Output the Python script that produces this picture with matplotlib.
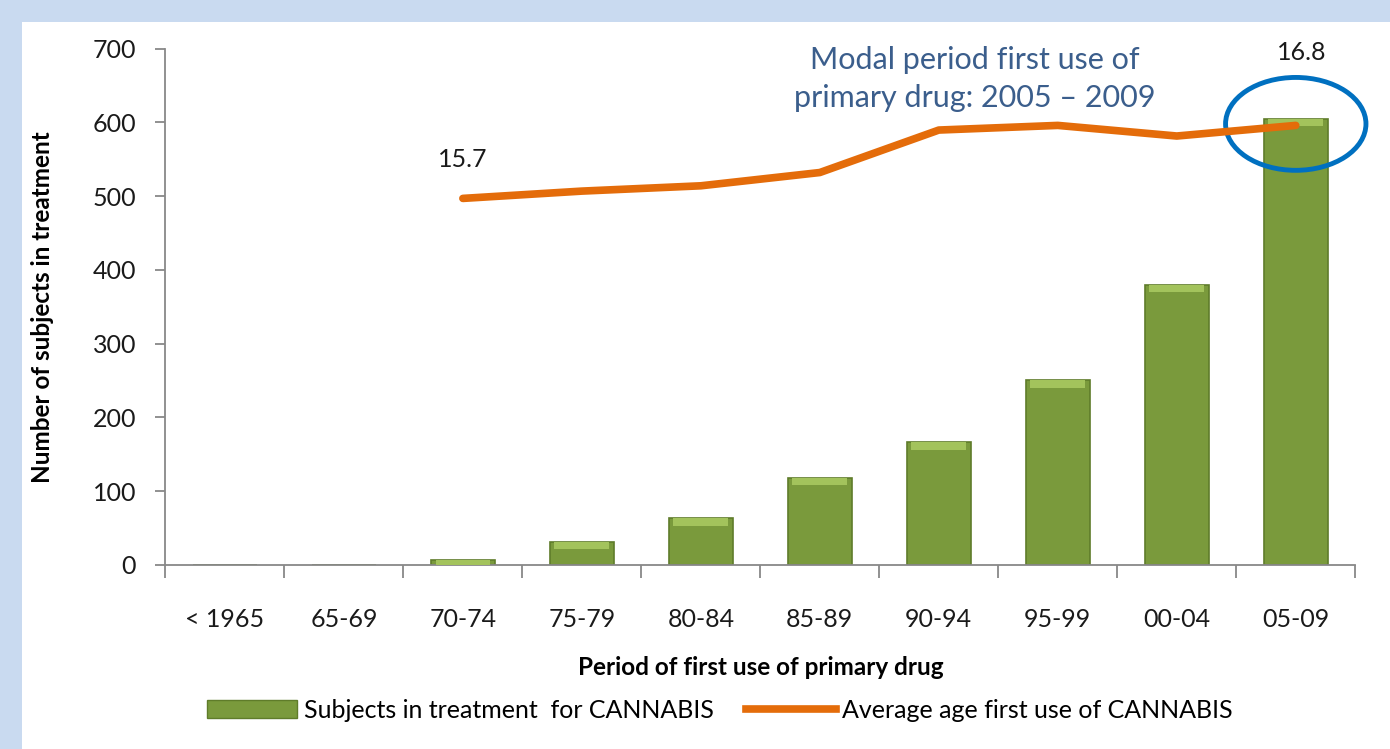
import matplotlib.pyplot as plt
from matplotlib.patches import Ellipse, Rectangle
from matplotlib.lines import Line2D

plt.rcParams["font.family"] = ["Lato", "DejaVu Sans"]

periods = ["< 1965", "65-69", "70-74", "75-79", "80-84", "85-89", "90-94", "95-99", "00-04", "05-09"]
subjects = [0, 0, 7, 31, 63, 118, 166, 250, 380, 605]
age_periods = ["70-74", "75-79", "80-84", "85-89", "90-94", "95-99", "00-04", "05-09"]
avg_age = [15.7, 15.81, 15.89, 16.09, 16.73, 16.8, 16.64, 16.8]

BAR_COLOR = "#7a9a3c"
CAP_COLOR = "#a3c35c"
LINE_COLOR = "#e46c0a"
TEXT_COLOR = "#1a1a1a"


def main():
    fig = plt.figure(figsize=(13.9, 7.49), dpi=100)
    fig.patch.set_facecolor("#c9daf0")
    fig.patches.append(Rectangle((0.016, 0), 0.984, 0.971, transform=fig.transFigure,
                                 facecolor="white", edgecolor="none", zorder=-10))

    ax = fig.add_axes([0.119, 0.246, 0.856, 0.689])
    ax.set_facecolor("none")
    x = list(range(len(periods)))

    ax.bar(x, subjects, width=0.54, color=BAR_COLOR, edgecolor="#5f7c2a", linewidth=1.2, zorder=2)
    # lighter bevel at bar tops
    cap = [min(10, s) for s in subjects]
    ax.bar(x, cap, bottom=[s - c for s, c in zip(subjects, cap)], width=0.46,
           color=CAP_COLOR, edgecolor="none", zorder=3)

    ax.set_xlim(-0.5, len(periods) - 0.5)
    ax.set_ylim(0, 700)
    ax.set_yticks(range(0, 701, 100))
    ax.set_xticks(x)
    ax.set_xticklabels(periods, fontsize=18, color=TEXT_COLOR)
    ax.set_xticks([i - 0.5 for i in range(len(periods) + 1)], minor=True)
    ax.tick_params(axis="x", which="major", length=0, pad=31)
    ax.tick_params(axis="x", which="minor", length=9, color="#888888", width=1.3)
    ax.tick_params(axis="y", length=7, color="#888888", width=1.3, labelsize=18,
                   labelcolor=TEXT_COLOR, pad=14)
    for s in ["top", "right"]:
        ax.spines[s].set_visible(False)
    for s in ["left", "bottom"]:
        ax.spines[s].set_color("#888888")
        ax.spines[s].set_linewidth(1.3)

    ax.set_ylabel("Number of subjects in treatment", fontsize=17.5, fontweight="bold", labelpad=28)
    ax.set_xlabel("Period of first use of primary drug", fontsize=17.5, fontweight="bold", labelpad=18)

    # average age on a hidden secondary axis
    ax2 = ax.twinx()
    ax2.set_ylim(10.18, 17.956)
    ax2.axis("off")
    xa = [periods.index(p) for p in age_periods]
    ax2.plot(xa, avg_age, color=LINE_COLOR, linewidth=5.5, solid_capstyle="round", zorder=4)
    ax2.text(xa[0], avg_age[0] + 0.42, f"{avg_age[0]:.1f}", ha="center", va="bottom", fontsize=18,
             color=TEXT_COLOR)
    ax2.text(xa[-1] + 0.05, avg_age[-1] + 0.92, f"{avg_age[-1]:.1f}", ha="center", va="bottom",
             fontsize=18, color=TEXT_COLOR)

    ax.add_patch(Ellipse((9.0, 598), 1.18, 126, fill=False, edgecolor="#0070c0",
                         linewidth=3.5, clip_on=False, zorder=5))

    ax.text(6.3, 659, "Modal period first use of\nprimary drug: 2005 \u2013 2009", ha="center",
            va="center", fontsize=22, color="#3b5e8c", linespacing=1.45)

    handles = [Rectangle((0, 0), 1, 1, facecolor=BAR_COLOR, edgecolor="#5f7c2a"),
               Line2D([0], [0], color=LINE_COLOR, linewidth=5.5)]
    fig.legend(handles, ["Subjects in treatment  for CANNABIS", "Average age first use of CANNABIS"],
               loc="center", bbox_to_anchor=(0.518, 0.052), ncol=2, frameon=False, fontsize=18,
               handlelength=3.6, handletextpad=0.25, columnspacing=1.3)

    fig.savefig("out.png", dpi=100, facecolor=fig.get_facecolor())


if __name__ == "__main__":
    main()
